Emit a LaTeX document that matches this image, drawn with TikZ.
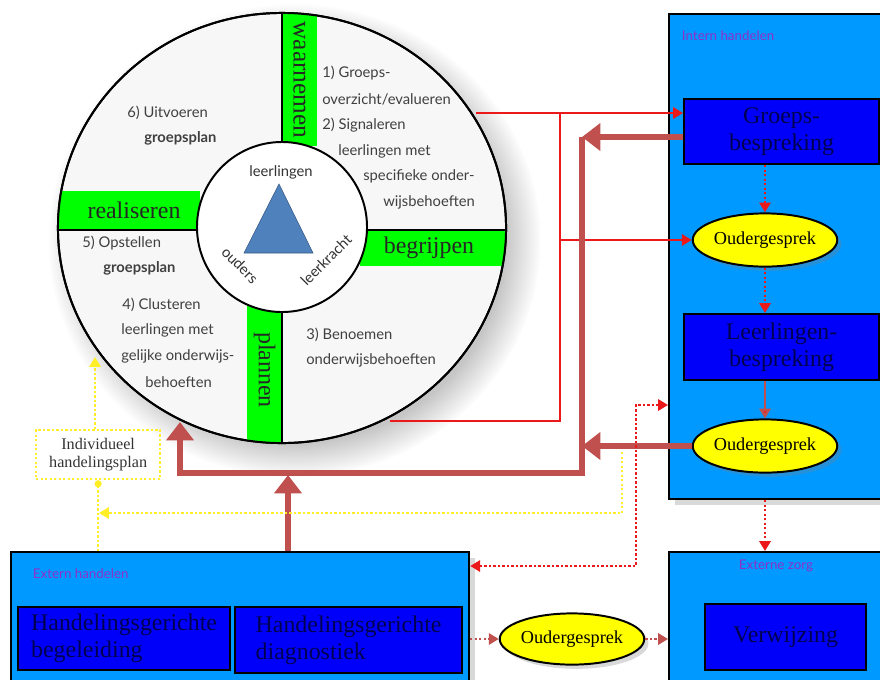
\documentclass[tikz,border=0pt]{standalone}
\usepackage{fontspec}
\setmainfont{Liberation Serif}
\setsansfont{Lato}
\usepackage{xcolor}
\usetikzlibrary{arrows.meta, positioning, calc, shadows, shapes.geometric}

\definecolor{zoneblue}{RGB}{0,153,255}
\definecolor{taskblue}{RGB}{0,0,250}
\definecolor{tasktext}{RGB}{0,0,80}
\definecolor{phasegreen}{RGB}{0,255,0}
\definecolor{talkyellow}{RGB}{255,255,0}
\definecolor{trianglefill}{RGB}{79,129,189}
\definecolor{linered}{RGB}{235,25,25}
\definecolor{flowred}{RGB}{192,80,77}
\definecolor{planyellow}{RGB}{255,238,40}
\definecolor{zonelabel}{RGB}{140,50,200}

\begin{document}
\begin{tikzpicture}[
  x=0.025cm, y=-0.025cm,
  zone/.style={
    draw=black,
    line width=1.5pt,
    fill=zoneblue,
    anchor=north west,
    drop shadow={opacity=0.3, shadow xshift=4pt, shadow yshift=-4pt}
  },
  task/.style={
    draw=black,
    line width=1.5pt,
    fill=taskblue,
    anchor=north west,
    inner sep=2pt,
    align=center,
    text=tasktext,
    font=\fontsize{17}{19}\selectfont
  },
  talk/.style={
    ellipse,
    draw=black,
    line width=1.4pt,
    fill=talkyellow,
    minimum width=3.35cm,
    minimum height=1.33cm,
    inner sep=0pt,
    font=\fontsize{13}{15}\selectfont,
    drop shadow={opacity=0.3, shadow xshift=3pt, shadow yshift=-3pt}
  },
  zonetitle/.style={font=\sffamily\fontsize{9.5}{11}\selectfont, text=zonelabel},
  phase/.style={font=\fontsize{17}{19}\selectfont, text=black!85},
  qtext/.style={font=\sffamily\fontsize{10.5}{12}\selectfont, text=black!75, anchor=west, inner sep=0pt},
  hubtext/.style={font=\sffamily\fontsize{10.5}{12}\selectfont, text=black!80, inner sep=0pt},
  redline/.style={draw=linered, line width=1.5pt},
  redarrow/.style={redline, -{Triangle[length=7pt,width=8pt]}},
  flowarrow/.style={draw=flowred, line width=4.3pt, -{Triangle[length=13pt,width=19pt]}},
  reddots/.style={draw=linered, line width=1.6pt, dash pattern=on 1.6pt off 1.6pt},
  reddotarrow/.style={reddots, -{Triangle[length=7pt,width=8pt]}},
  flowdotarrow/.style={draw=flowred, line width=1.6pt, dash pattern=on 1.6pt off 1.6pt, -{Triangle[length=7pt,width=8pt]}},
  yellowdots/.style={draw=planyellow, line width=1.6pt, dash pattern=on 1.6pt off 1.6pt},
  yellowarrow/.style={yellowdots, -{Triangle[length=7pt,width=8pt]}}
]

\useasboundingbox (0,0) rectangle (880,679);
\clip (0,0) rectangle (880,679);

% --- the wheel ---
\node[ellipse, draw=black, line width=1.4pt, fill=gray!6, minimum width=11.2cm, minimum height=10.75cm, inner sep=0pt,
      circular drop shadow={shadow xshift=8pt, shadow yshift=-8pt, opacity=0.45}] (wheel) at (282,228) {};

\begin{scope}
  \clip (282,228) ellipse [x radius=5.6cm, y radius=5.375cm];
  \fill[phasegreen] (282,5) rectangle (317,146);
  \fill[phasegreen] (50,191) rectangle (200,230);
  \fill[phasegreen] (360,230) rectangle (510,266);
  \fill[phasegreen] (247,300) rectangle (282,450);
  \draw[line width=1.4pt] (282,5) -- (282,450);
  \draw[line width=1.4pt] (50,230) -- (510,230);
\end{scope}
\draw[line width=1.4pt] (wheel) ellipse [x radius=5.6cm, y radius=5.375cm];

\node[phase, rotate=-90, font=\fontsize{18}{20}\selectfont] (waarnemen) at (299.5,80) {waarnemen};
\node[phase] (realiseren) at (134,210) {realiseren};
\node[phase] (begrijpen) at (429,248) {begrijpen};
\node[phase, rotate=-90] (plannen) at (264.5,370) {plannen};

% --- hub ---
\node[circle, draw=black, line width=1.4pt, fill=white, minimum size=4.25cm, inner sep=0pt] (hub) at (282,227) {};
\draw[fill=trianglefill, draw=trianglefill!70!black, line width=0.4pt] (279,184) -- (313,253) -- (244,253) -- cycle;
\node[hubtext] (leerlingen) at (281,172) {leerlingen};
\node[hubtext, rotate=-45] (ouders) at (240,265) {ouders};
\node[hubtext, rotate=45] (leerkracht) at (326,260) {leerkracht};

% --- quadrant texts ---
\node[qtext] (q1a) at (322,73) {1) Groeps-};
\node[qtext] (q1b) at (322,99) {overzicht/evalueren};
\node[qtext] (q2a) at (322,125) {2) Signaleren};
\node[qtext] (q2b) at (338,151) {leerlingen met};
\node[qtext] (q2c) at (363,176) {specifieke onder-};
\node[qtext] (q2d) at (383,202) {wijsbehoeften};

\node[qtext] (q3a) at (306,335) {3) Benoemen};
\node[qtext] (q3b) at (306,360) {onderwijsbehoeften};

\node[qtext] (q4a) at (122,305) {4) Clusteren};
\node[qtext] (q4b) at (121,330) {leerlingen met};
\node[qtext] (q4c) at (121,356) {gelijke onderwijs-};
\node[qtext] (q4d) at (145,382) {behoeften};

\node[qtext] (q5a) at (82,243) {5) Opstellen};
\node[qtext, font=\sffamily\bfseries\fontsize{10.5}{12}\selectfont] (q5b) at (103,268) {groepsplan};

\node[qtext] (q6a) at (127,113) {6) Uitvoeren};
\node[qtext, font=\sffamily\bfseries\fontsize{10.5}{12}\selectfont] (q6b) at (144,138) {groepsplan};

% --- intern handelen ---
\node[zone, minimum width=5.6cm, minimum height=12.125cm] (intern) at (668,13) {};
\node[zonetitle, anchor=west] (internlabel) at (677,36) {Intern handelen};
\node[task, minimum width=4.875cm, minimum height=1.625cm] (groeps) at (683,98) {Groeps-\\bespreking};
\node[talk] (ouder1) at (765,240) {Oudergesprek};
\node[task, minimum width=4.875cm, minimum height=1.65cm] (leerling) at (683,313) {Leerlingen-\\bespreking};
\node[talk] (ouder2) at (765,446) {Oudergesprek};

% --- externe zorg ---
\node[zone, minimum width=5.6cm, minimum height=3.5cm] (extzorg) at (668,551) {};
\node[zonetitle] (zorglabel) at (776,566) {Externe zorg};
\node[task, minimum width=4.025cm, minimum height=1.65cm] (verwijzing) at (704,603) {Verwijzing};

% --- extern handelen ---
\node[zone, minimum width=11.45cm, minimum height=3.5cm] (extern) at (10,551) {};
\node[zonetitle, anchor=west] (externlabel) at (28,574) {Extern handelen};
\node[task, align=left, minimum width=5.3cm, minimum height=1.575cm] (begeleiding) at (17,606) {Handelingsgerichte\\begeleiding};
\node[task, align=left, minimum width=5.675cm, minimum height=1.65cm] (diagnostiek) at (234,606) {Handelingsgerichte\\diagnostiek};
\node[talk, minimum width=3.3cm, minimum height=1.28cm] (ouder3) at (572,639) {Oudergesprek};

% --- individueel plan ---
\node[yellowdots, anchor=north west, minimum width=3.1cm, minimum height=1.225cm, align=center,
      font=\fontsize{11.5}{13}\selectfont, text=black!80] (indiv) at (35,429) {Individueel\\handelingsplan};

% --- thin red lines ---
\coordinate (sigout) at (476,113);
\coordinate (benout) at (390,421);
\coordinate (rsplit) at (560,113);
\draw[redarrow] (sigout) -- (groeps.west |- sigout);
\draw[redline] (benout) -| (rsplit);
\draw[redarrow] (rsplit |- ouder1) -- (ouder1.west);

% --- thick return arrows ---
\coordinate (tgtop) at (582,137);
\coordinate (tleft) at (180,473);
\coordinate (tentry) at (180,422);
\coordinate (tup) at (288,475);
\draw[flowarrow] (groeps.west |- tgtop) -- (tgtop);
\draw[flowarrow] (ouder2.west) -- (ouder2.west -| tgtop);
\draw[flowarrow] (tgtop) |- (tleft) -- (tentry);
\draw[flowarrow] (tup |- extern.north) -- (tup);

% --- flow inside intern ---
\draw[reddotarrow] (groeps.south -| ouder1) -- (ouder1.north);
\draw[reddotarrow] (ouder1.south) -- (leerling.north -| ouder1);
\draw[draw=flowred, line width=2pt, -{Triangle[length=7pt,width=8pt,fill=linered]}] (leerling.south -| ouder2) -- (ouder2.north);
\draw[reddotarrow] (intern.south -| ouder2) -- (extzorg.north -| ouder2);

% --- dotted links ---
\coordinate (dtop) at (636,405);
\coordinate (dbot) at (636,566);
\draw[reddots, {Triangle[length=7pt,width=8pt]}-{Triangle[length=7pt,width=8pt]}] (intern.west |- dtop) -- (dtop) -- (dbot) -- (extern.east |- dbot);
\draw[flowdotarrow] (extern.east |- ouder3) -- (ouder3.west);
\draw[flowdotarrow] (ouder3.east) -- (extzorg.west |- ouder3);

\coordinate (ystart) at (622,452);
\coordinate (yend) at (99,513);
\coordinate (ytip) at (95,357);
\draw[yellowarrow] (ystart) |- (yend);
\draw[yellowarrow] (indiv.north -| ytip) -- (ytip);
\draw[yellowdots, -{Circle[length=5pt]}] (extern.north -| indiv.south) -- (indiv.south);

\end{tikzpicture}
\end{document}
